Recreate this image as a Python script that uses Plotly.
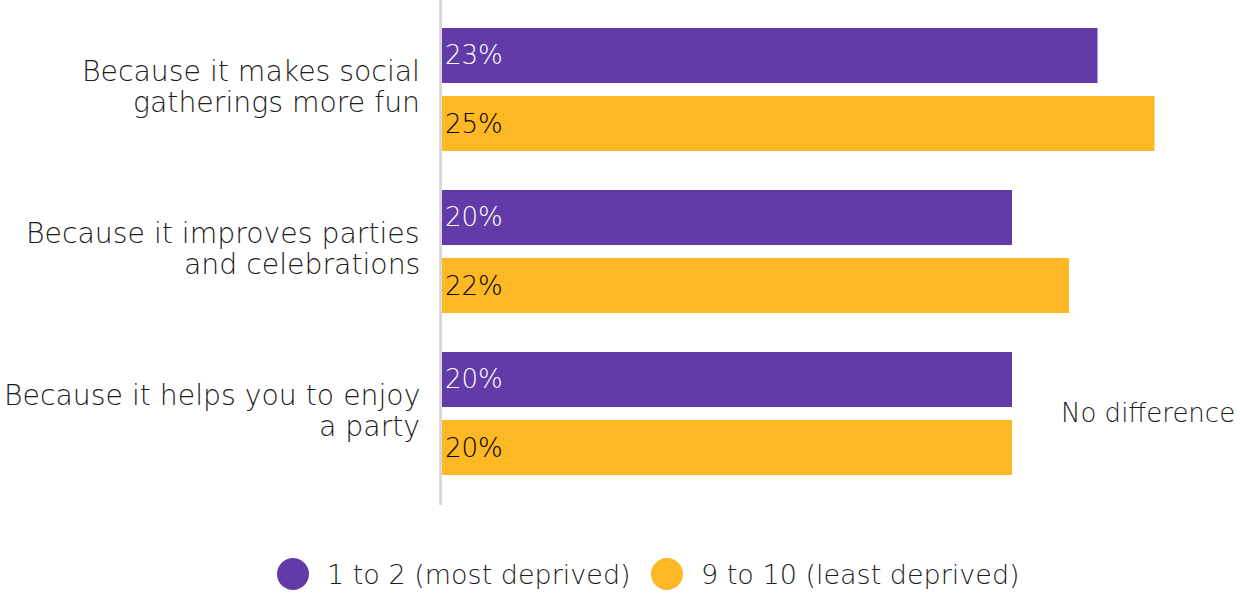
import plotly.graph_objects as go

# ---- data ----
categories = [
    "Because it makes social<br>gatherings more fun",
    "Because it improves parties<br>and celebrations",
    "Because it helps you to enjoy<br>a party",
]
most_deprived = [23, 20, 20]
least_deprived = [25, 22, 20]
series_names = ["1 to 2 (most deprived)", "9 to 10 (least deprived)"]
note_text = "No difference"
note_category = 2

# ---- style ----
PURPLE = "#613ca8"
YELLOW = "#fdb823"
TEXT = "#1c1c1c"
AXIS = "#d2d2d2"
FONT = "DejaVu Sans"
WEIGHT = 300
CAT_SIZE = 28.3

W, H = 1240, 593
LEFT = 442
PLOT_BOTTOM = 505
PLOT_W = W - LEFT
PLOT_H = PLOT_BOTTOM


def px_to_paper(px, py):
    return (px - LEFT) / PLOT_W, (PLOT_H - py) / PLOT_H


def font(size, color=TEXT):
    return dict(family=FONT, size=size, color=color, weight=WEIGHT)


pos = list(range(len(categories)))

fig = go.Figure()
fig.add_bar(
    y=pos, x=most_deprived, orientation="h", width=0.34, offset=-0.38,
    marker=dict(color=PURPLE, line=dict(width=0)),
    text=[f"{v}%" for v in most_deprived], textposition="inside",
    insidetextanchor="start", constraintext="none",
    textfont=font(26, "white"),
    name=series_names[0], showlegend=False,
)
fig.add_bar(
    y=pos, x=least_deprived, orientation="h", width=0.34, offset=0.04,
    marker=dict(color=YELLOW, line=dict(width=0)),
    text=[f"{v}%" for v in least_deprived], textposition="inside",
    insidetextanchor="start", constraintext="none",
    textfont=font(26, "black"),
    name=series_names[1], showlegend=False,
)

annotations = []
# category labels, one line per annotation, right-aligned left of the axis
for i, cat in enumerate(categories):
    lines = cat.split("<br>")
    for line, ys in zip(lines, [18, -13]):
        annotations.append(dict(
            text=line, xref="paper", x=0, xanchor="right", xshift=-20,
            yref="y", y=i, yanchor="middle", yshift=ys, showarrow=False,
            font=font(CAT_SIZE),
        ))

annotations.append(dict(
    text=note_text, xref="paper", x=1, xanchor="right", xshift=-3,
    yref="y", y=note_category, yanchor="middle", yshift=1, showarrow=False,
    font=font(26),
))

# custom legend with large round swatches
shapes = []
legend_items = [(293, 325, PURPLE), (667, 699, YELLOW)]
for (cx, tx, color), name in zip(legend_items, series_names):
    xc, yc = px_to_paper(cx, 574)
    shapes.append(dict(
        type="circle", xref="paper", yref="paper",
        xsizemode="pixel", ysizemode="pixel", xanchor=xc, yanchor=yc,
        x0=-16, x1=16, y0=-16, y1=16,
        fillcolor=color, line=dict(width=0),
    ))
    xt, yt = px_to_paper(tx, 574)
    annotations.append(dict(
        text=name, xref="paper", x=xt, xanchor="left",
        yref="paper", y=yt, yanchor="middle", showarrow=False,
        font=font(27),
    ))

# vertical axis line
x_line, _ = px_to_paper(LEFT - 1.5, 0)
shapes.append(dict(
    type="line", xref="paper", yref="paper", x0=x_line, x1=x_line, y0=0, y1=1,
    line=dict(color=AXIS, width=2.5),
))

fig.update_layout(
    width=W, height=H,
    margin=dict(l=LEFT, r=0, t=0, b=H - PLOT_BOTTOM),
    paper_bgcolor="white", plot_bgcolor="white",
    barmode="overlay",
    xaxis=dict(range=[0, 28], visible=False, fixedrange=True),
    yaxis=dict(range=[2.5648, -0.5525], visible=False, fixedrange=True),
    annotations=annotations, shapes=shapes,
    font=dict(family=FONT, color=TEXT),
    showlegend=False,
)

fig.write_html("out.html")
